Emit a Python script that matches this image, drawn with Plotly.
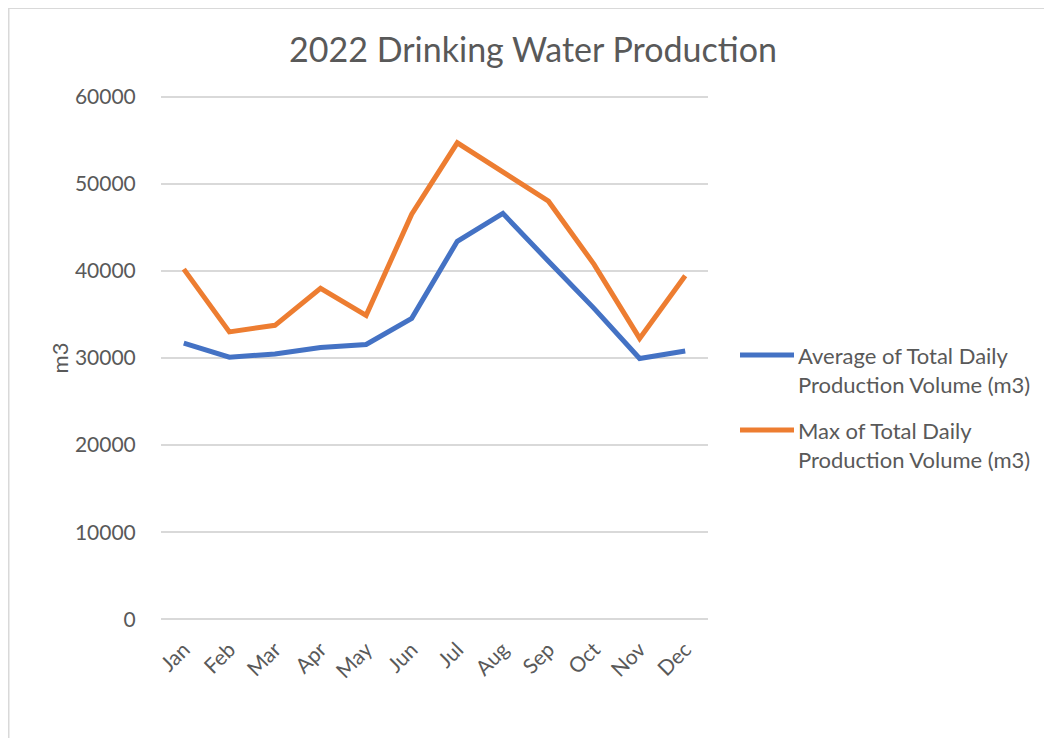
import plotly.graph_objects as go

months = ["Jan", "Feb", "Mar", "Apr", "May", "Jun", "Jul", "Aug", "Sep", "Oct", "Nov", "Dec"]
avg_vals = [31700, 30100, 30450, 31200, 31550, 34550, 43400, 46600, 41100, 35700, 29950, 30800]
max_vals = [40200, 33000, 33750, 38000, 34900, 46500, 54700, 51350, 48000, 40750, 32250, 39450]
series_names = ["Average of Total Daily<br>Production Volume (m3)",
                "Max of Total Daily<br>Production Volume (m3)"]
y_ticks = [0, 10000, 20000, 30000, 40000, 50000, 60000]

BLUE = "#4472C4"
ORANGE = "#ED7D31"
GRAY = "#595959"
FONT = "Lato, 'Open Sans', sans-serif"

OFF = 8  # page body margin
W, H = 1052 - OFF, 738 - OFF
# plot area in page pixels: x 161..708, y (60000) 97 .. (0) 619
pad = 300
unit = (619 - 97) / 60000.0
top_page = 97 - pad * unit
bot_page = 619 + pad * unit
L = 161 - OFF
R = W - (708 - OFF)
T = top_page - OFF
B = H - (bot_page - OFF)
pw, ph = W - L - R, H - T - B

def px_x(x):
    return (x - OFF - L) / pw

def px_y(y):
    return 1 - (y - OFF - T) / ph

fig = go.Figure()
fig.add_trace(go.Scatter(x=months, y=avg_vals, mode="lines",
                         line=dict(color=BLUE, width=5), name="avg", showlegend=False))
fig.add_trace(go.Scatter(x=months, y=max_vals, mode="lines",
                         line=dict(color=ORANGE, width=5), name="max", showlegend=False))

shapes = [
    dict(type="rect", xref="paper", yref="paper",
         x0=px_x(OFF + 0.75), x1=px_x(1075), y0=px_y(770), y1=px_y(OFF + 0.75),
         line=dict(color="#D9D9D9", width=1.5), layer="below"),
]
annotations = []
legend_y = [355, 430]
for name, col, yy in zip(series_names, [BLUE, ORANGE], legend_y):
    shapes.append(dict(type="line", xref="paper", yref="paper",
                       x0=px_x(740), x1=px_x(794), y0=px_y(yy), y1=px_y(yy),
                       line=dict(color=col, width=5)))
    annotations.append(dict(xref="paper", yref="paper", x=px_x(796), y=px_y(yy - 15),
                            xanchor="left", yanchor="top", align="left", showarrow=False,
                            text=name, font=dict(family=FONT, size=22, color=GRAY)))

fig.update_layout(
    width=W, height=H,
    margin=dict(l=L, r=R, t=T, b=B, pad=0),
    paper_bgcolor="white", plot_bgcolor="white",
    title=dict(text="2022 Drinking Water Production", x=(533 - OFF) / W, xanchor="center",
               y=1 - (50 - OFF) / H, yanchor="middle",
               font=dict(family=FONT, size=34, color=GRAY)),
    xaxis=dict(type="category", range=[-0.5, 11.5], tickangle=-45,
               tickfont=dict(family=FONT, size=21, color=GRAY),
               showgrid=False, showline=False, zeroline=False,
               ticks="outside", ticklen=6, tickcolor="rgba(0,0,0,0)"),
    yaxis=dict(range=[-pad, 60000 + pad], tickvals=y_ticks, ticktext=[str(v) for v in y_ticks],
               tickfont=dict(family=FONT, size=21, color=GRAY),
               gridcolor="#D9D9D9", gridwidth=1.5, showline=False, zeroline=False,
               ticks="outside", ticklen=20, tickcolor="rgba(0,0,0,0)",
               title=dict(text="m3", font=dict(family=FONT, size=22, color=GRAY), standoff=0)),
    shapes=shapes, annotations=annotations,
)

fig.write_html("out.html")
